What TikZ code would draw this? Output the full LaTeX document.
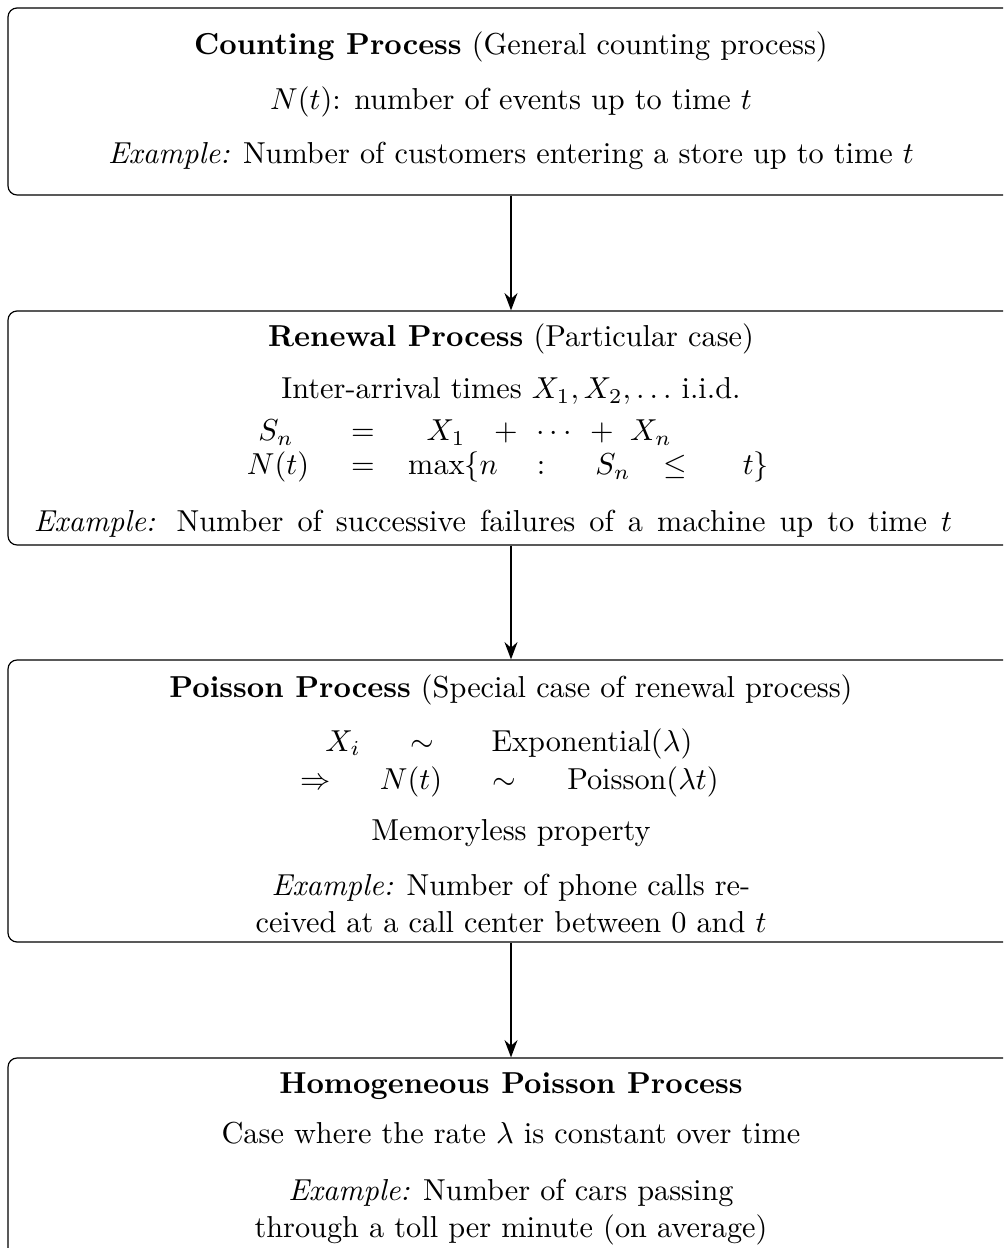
\documentclass[tikz,border=0pt]{standalone}
\usetikzlibrary{arrows.meta,fit}
\begin{document}
\begin{tikzpicture}[x=0.33pt,y=-0.33pt,
  procbox/.style={draw, rounded corners=3pt, inner sep=0pt, line width=0.4pt},
  txt/.style={inner sep=0pt, anchor=base},
  flow/.style={-{Stealth}, semithick}]
\useasboundingbox (0,0) rectangle (1003,1248);
\clip (0,0) rectangle (1003,1248);

% process boxes
\node[procbox, fit={(8,8) (1014,195)}] (b1) {};
\node[procbox, fit={(8,311) (1014,545)}] (b2) {};
\node[procbox, fit={(8,660) (1014,942)}] (b3) {};
\node[procbox, fit={(8,1058) (1014,1275)}] (b4) {};

% counting process
\node[txt] (h1) at (511,55) {\textbf{Counting Process} (General counting process)};
\node[txt] (l11) at (511,110) {$N(t)$: number of events up to time $t$};
\node[txt] (l12) at (511,164) {\textit{Example:} Number of customers entering a store up to time $t$};

% renewal process
\node[txt] (h2) at (511,347) {\textbf{Renewal Process} (Particular case)};
\node[txt] (l21) at (511,399) {Inter-arrival times $X_1, X_2, \ldots$ i.i.d.};
\node[txt] (sa1) at (276,441) {$S_n$};
\node[txt] (sa2) at (363,441) {$=$};
\node[txt] (sa3) at (446,441) {$X_1$};
\node[txt] (sa4) at (506,441) {$+$};
\node[txt] (sa5) at (554,441) {$\cdots$};
\node[txt] (sa6) at (602,441) {$+$};
\node[txt] (sa7) at (651,441) {$X_n$};
\node[txt] (na1) at (278,475) {$N(t)$};
\node[txt] (na2) at (363,475) {$=$};
\node[txt] (na3) at (453,475) {$\max\{n$};
\node[txt] (na4) at (541,475) {$:$};
\node[txt] (na5) at (613,475) {$S_n$};
\node[txt] (na6) at (675,475) {$\leq$};
\node[txt] (na7) at (756,475) {$t\}$};
\node[txt] (l22) at (493,531) {\makebox[303pt][s]{\textit{Example:} Number of successive failures of a machine up to time $t$}};

% poisson process
\node[txt] (h3) at (511,697) {\textbf{Poisson Process} (Special case of renewal process)};
\node[txt] (xa1) at (343,751) {$X_i$};
\node[txt] (xa2) at (422,751) {$\sim$};
\node[txt] (xa3) at (592,751) {$\mathrm{Exponential}(\lambda)$};
\node[txt] (pa1) at (316,789) {$\Rightarrow$};
\node[txt] (pa2) at (411,789) {$N(t)$};
\node[txt] (pa3) at (504,789) {$\sim$};
\node[txt] (pa4) at (643,789) {$\mathrm{Poisson}(\lambda t)$};
\node[txt] (l31) at (511,840) {Memoryless property};
\node[txt] (l32) at (511,895) {\textit{Example:} Number of phone calls re-};
\node[txt] (l33) at (511,932) {ceived at a call center between 0 and $t$};

% homogeneous poisson process
\node[txt] (h4) at (511,1093) {\textbf{Homogeneous Poisson Process}};
\node[txt] (l41) at (511,1143) {Case where the rate $\lambda$ is constant over time};
\node[txt] (l42) at (511,1200) {\textit{Example:} Number of cars passing};
\node[txt] (l43) at (511,1237) {through a toll per minute (on average)};

% connectors
\draw[flow] (b1.south) -- (b2.north);
\draw[flow] (b2.south) -- (b3.north);
\draw[flow] (b3.south) -- (b4.north);
\end{tikzpicture}
\end{document}
